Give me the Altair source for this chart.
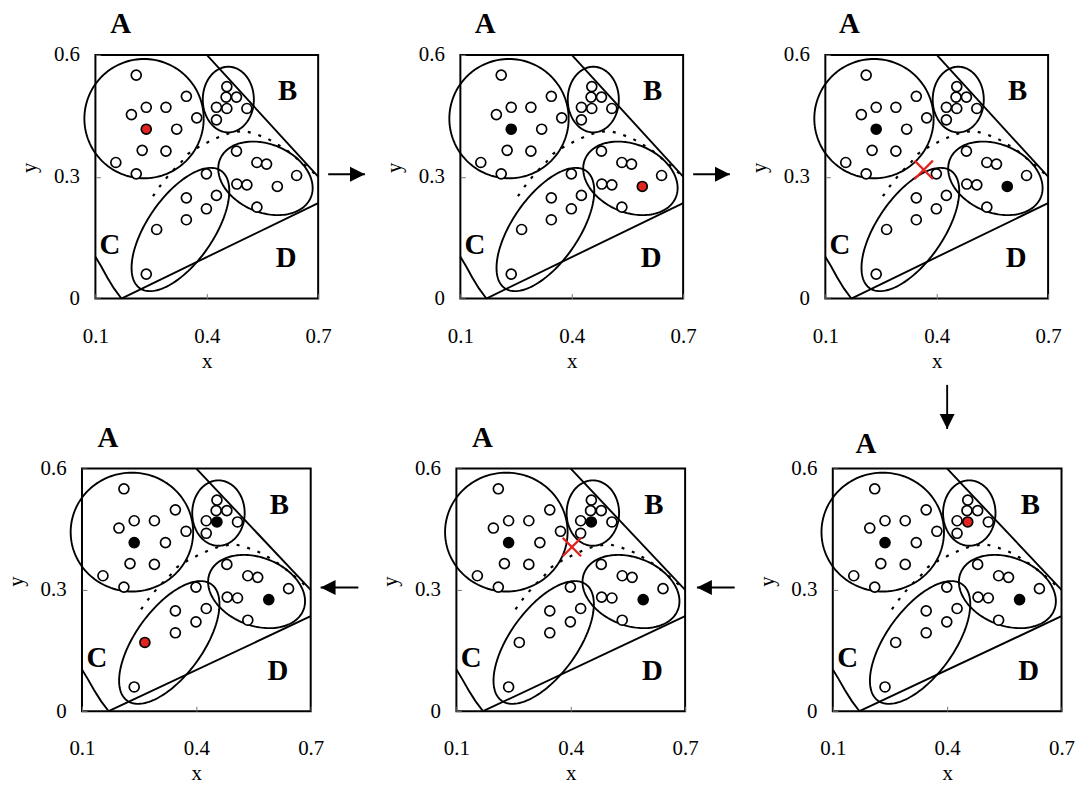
import numpy as np
import pandas as pd
import altair as alt

SERIF = "Liberation Serif"
RED = "#e2231f"

# ---------------------------------------------------------------- data
# sample points and the group each one belongs to
pt_x = [0.210, 0.197, 0.237, 0.290, 0.345, 0.373, 0.319, 0.237, 0.226, 0.290, 0.155, 0.210,
        0.454, 0.452, 0.480, 0.426, 0.454, 0.508, 0.426,
        0.399, 0.345, 0.426, 0.399, 0.345, 0.265, 0.237,
        0.480, 0.535, 0.561, 0.481, 0.508, 0.590, 0.642, 0.535]
pt_y = [0.550, 0.453, 0.471, 0.471, 0.498, 0.445, 0.417, 0.417, 0.365, 0.363, 0.335, 0.307,
        0.522, 0.496, 0.496, 0.471, 0.468, 0.468, 0.440,
        0.307, 0.248, 0.254, 0.221, 0.194, 0.170, 0.060,
        0.363, 0.335, 0.331, 0.282, 0.280, 0.276, 0.303, 0.225]
pt_group = ["A"] * 12 + ["B"] * 7 + ["C"] * 7 + ["D"] * 8

# representative object of each group (index into the points)
medoid = {"A": 7, "B": 16, "C": 24, "D": 31}

# panels in reading order (row by row); the steps run 1-2-3-6-5-4
step_fixed = [[], ["A"], ["A", "D"], ["A", "B", "D"], ["A", "B", "D"], ["A", "D"]]
step_new = ["A", "D", None, "C", None, "B"]
reject_x = [None, None, 0.365, None, 0.403, None]
reject_y = [None, None, 0.317, None, 0.406, None]

# arrows leading from one step to the next
arrow_dir = ["right", "right", None, "left", "left", "down"]
arrow_tail_x = [0.727, 0.727, None, 0.825, 0.830, 0.400]
arrow_tail_y = [0.306, 0.306, None, 0.306, 0.306, 0.807]
arrow_tip_x = [0.826, 0.826, None, 0.726, 0.731, 0.400]
arrow_tip_y = [0.306, 0.306, None, 0.306, 0.306, 0.698]

# region letters
letter_text = ["A", "B", "C", "D"]
letter_x = [0.168, 0.618, 0.139, 0.614]
letter_y = [0.675, 0.511, 0.131, 0.099]
letter_a_x = [0.168, 0.167, 0.165, 0.168, 0.168, 0.187]
letter_a_y = [0.675, 0.675, 0.675, 0.676, 0.676, 0.661]

# cluster ellipses: centre, semi-axes (x units) and tilt in degrees
ell_id = ["A", "B", "C", "D"]
ell_cx = [0.231, 0.458, 0.329, 0.558]
ell_cy = [0.443, 0.490, 0.170, 0.296]
ell_a = [0.1607, 0.0688, 0.1923, 0.1326]
ell_b = [0.1607, 0.0884, 0.0889, 0.0916]
ell_tilt = [0.0, 0.0, 55.3, -23.1]

# solid region borders
edge_id = ["BD", "BD", "CD", "CD", "AC", "AC", "AC", "AC", "AC"]
edge_x = [0.400, 0.700, 0.170, 0.700, 0.100, 0.115, 0.132, 0.150, 0.170]
edge_y = [0.600, 0.300, 0.000, 0.235, 0.103, 0.080, 0.052, 0.025, 0.000]

# dotted border between the upper and lower groups
split_x = [0.255, 0.278, 0.304, 0.327, 0.349, 0.376, 0.405, 0.438, 0.467, 0.500,
           0.532, 0.563, 0.590, 0.617, 0.644, 0.671, 0.700]
split_y = [0.252, 0.282, 0.311, 0.331, 0.356, 0.372, 0.386, 0.400, 0.409, 0.413,
           0.405, 0.394, 0.380, 0.364, 0.344, 0.323, 0.300]

# ---------------------------------------------------------------- layout
W_TOP, H_TOP = 224, 245
W_BOT, H_BOT = 230, 244
ASPECT = H_TOP / W_TOP  # pixels per y unit / pixels per x unit

xs = alt.Scale(domain=[0.1, 0.7], nice=False, zero=False)
ys = alt.Scale(domain=[0.0, 0.6], nice=False, zero=False)
x_axis = alt.Axis(values=[0.1, 0.4, 0.7], format="~g", title="x", labelFlush=False)
y_axis = alt.Axis(values=[0.0, 0.3, 0.6], format="~g", title="y", labelFlush=False)


def X(f="x"):
    return alt.X(f"{f}:Q", scale=xs, axis=x_axis)


def Y(f="y"):
    return alt.Y(f"{f}:Q", scale=ys, axis=y_axis)


edges = pd.DataFrame({"id": edge_id, "x": edge_x, "y": edge_y,
                      "i": list(range(len(edge_x)))})
split = pd.DataFrame({"x": split_x, "y": split_y, "i": list(range(len(split_x)))})

t = np.linspace(0, 2 * np.pi, 145)
ell_rows = []
for n, cx, cy, a, b, tilt in zip(ell_id, ell_cx, ell_cy, ell_a, ell_b, ell_tilt):
    ph = np.radians(tilt)
    u, v = a * np.cos(t), b * np.sin(t)
    ex = cx + u * np.cos(ph) - v * np.sin(ph)
    ey = cy + (u * np.sin(ph) + v * np.cos(ph)) / ASPECT
    for i, (px, py) in enumerate(zip(ex, ey)):
        ell_rows.append({"id": n, "i": i, "x": px, "y": py})
ellipses = pd.DataFrame(ell_rows)

HEADS = {"right": "M0,0L-2,-1L-2,1Z", "left": "M0,0L2,-1L2,1Z", "down": "M0,0L-1,-2L1,-2Z"}
CROSS = "M-1,-1L1,1M-1,1L1,-1"


def panel(k, w, h):
    state = ["plain"] * len(pt_x)
    for g in step_fixed[k]:
        state[medoid[g]] = "fixed"
    if step_new[k]:
        state[medoid[step_new[k]]] = "new"
    pts = pd.DataFrame({"x": pt_x, "y": pt_y, "state": state})
    pts["rank"] = pts["state"].map({"plain": 0, "fixed": 1, "new": 2})

    layers = [
        alt.Chart(edges).mark_line(color="black", strokeWidth=1.9).encode(
            x=X(), y=Y(), detail="id:N", order="i:Q"),
        alt.Chart(split).mark_line(color="black", strokeWidth=2.2, strokeDash=[3, 8]).encode(
            x=X(), y=Y(), order="i:Q"),
        alt.Chart(ellipses).mark_line(color="black", strokeWidth=1.9).encode(
            x=X(), y=Y(), detail="id:N", order="i:Q"),
        alt.Chart(pts).mark_point(shape="circle", filled=True, size=100, stroke="black",
                                  strokeWidth=1.7, opacity=1).encode(
            x=X(), y=Y(),
            fill=alt.Fill("state:N", scale=alt.Scale(domain=["plain", "fixed", "new"],
                                                     range=["white", "black", RED]),
                          legend=None),
            order="rank:Q"),
    ]

    if reject_x[k] is not None:
        rej = pd.DataFrame({"x": [reject_x[k]], "y": [reject_y[k]]})
        layers.append(alt.Chart(rej).mark_point(shape=CROSS, filled=False, size=340,
                                                stroke=RED, strokeWidth=2.3, opacity=1).encode(
            x=X(), y=Y()))

    letters = pd.DataFrame({"x": [letter_a_x[k]] + letter_x[1:],
                            "y": [letter_a_y[k]] + letter_y[1:],
                            "t": letter_text})
    layers.append(alt.Chart(letters).mark_text(font=SERIF, fontSize=29, fontWeight="bold",
                                               align="center", baseline="middle",
                                               color="black").encode(
        x=X(), y=Y(), text="t:N"))

    if arrow_dir[k]:
        shaft = pd.DataFrame({"x": [arrow_tail_x[k]], "y": [arrow_tail_y[k]],
                              "x2": [arrow_tip_x[k]], "y2": [arrow_tip_y[k]]})
        tip = pd.DataFrame({"x": [arrow_tip_x[k]], "y": [arrow_tip_y[k]]})
        layers.append(alt.Chart(shaft).mark_rule(color="black", strokeWidth=1.9).encode(
            x=X(), y=Y(), x2=alt.X2("x2:Q"), y2=alt.Y2("y2:Q")))
        layers.append(alt.Chart(tip).mark_point(shape=HEADS[arrow_dir[k]], filled=True,
                                                size=225, color="black", opacity=1).encode(
            x=X(), y=Y()))

    return alt.layer(*layers).properties(width=w, height=h)


top = alt.hconcat(panel(0, W_TOP, H_TOP), panel(1, W_TOP, H_TOP), panel(2, W_TOP, H_TOP),
                  spacing=16)
bottom = alt.hconcat(panel(3, W_BOT, H_BOT), panel(4, W_BOT, H_BOT), panel(5, W_BOT, H_BOT),
                     spacing=18.5)

chart = (
    alt.vconcat(top, bottom, spacing=10, center=True)
    .properties(padding={"left": 4, "top": 7, "right": 0, "bottom": 0})
    .configure_view(stroke="black", strokeWidth=2)
    .configure_axis(grid=False, domain=False, ticks=True, tickSize=5, offset=-5,
                    tickColor="#777777", tickWidth=1,
                    labelFont=SERIF, labelFontSize=21, labelColor="black",
                    titleFont=SERIF, titleFontSize=21, titleFontWeight="normal",
                    titleColor="black")
    .configure_axisX(labelPadding=27, titlePadding=4)
    .configure_axisY(labelPadding=16, titlePadding=13.5, titleY=113)
)

chart.save("out.html", embed_options={"renderer": "svg", "actions": False})
